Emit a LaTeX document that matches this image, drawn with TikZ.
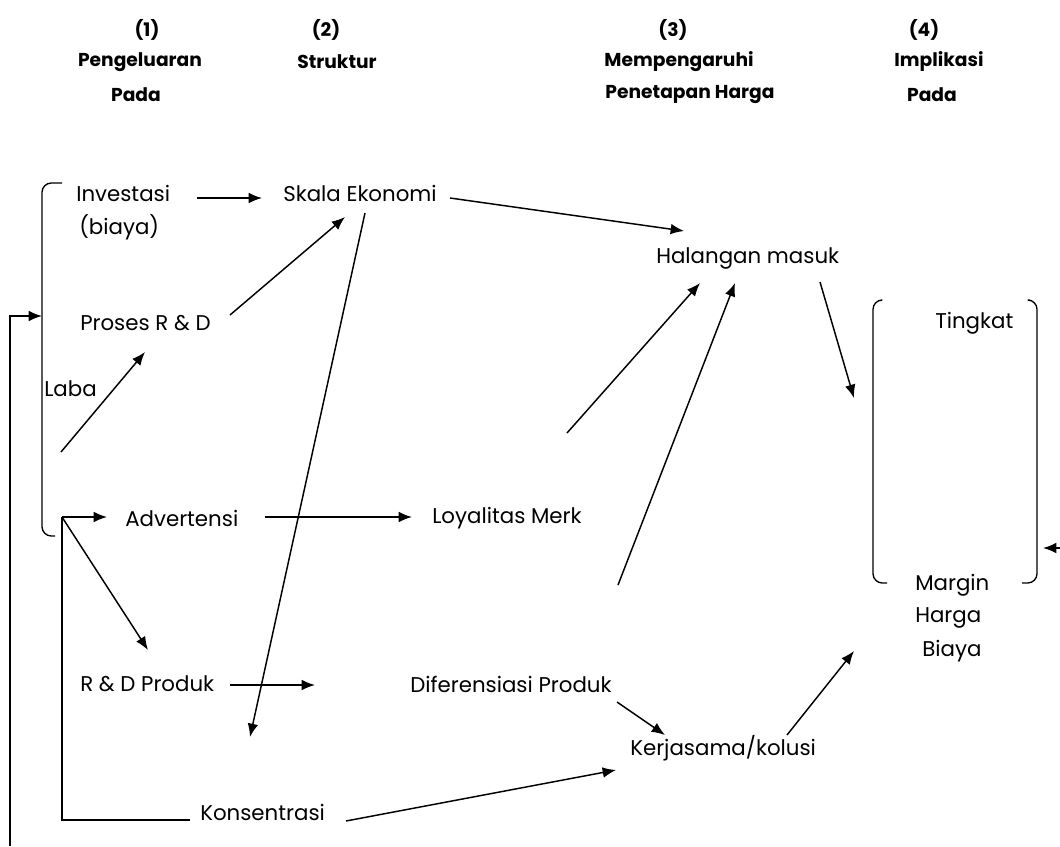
\documentclass[tikz,border=0pt]{standalone}
\usepackage{fontspec}
\setmainfont{Poppins}
\usetikzlibrary{arrows.meta}
\begin{document}
\begin{tikzpicture}[x=0.75pt,y=-0.75pt,
  lbl/.style={inner sep=0pt,anchor=west,font=\fontsize{16}{18}\selectfont},
  hd/.style={inner sep=0pt,anchor=center,font=\bfseries\fontsize{14}{16}\selectfont},
  arr/.style={line width=1.1pt,-{Latex[length=10pt,width=8pt]}},
  ln/.style={line width=1.1pt},
  brk/.style={line width=1pt,rounded corners=7pt}]
\useasboundingbox (0,0) rectangle (1060,846);

% column headings
\node[hd] (h1a) at (147,30) {(1)};
\node[hd] (h1b) at (140,62) {Pengeluaran};
\node[hd] (h1c) at (136,95) {Pada};
\node[hd] (h2a) at (326,30) {(2)};
\node[hd] (h2b) at (337,62) {Struktur};
\node[hd] (h3a) at (673,30) {(3)};
\node[hd] (h3b) at (679,62) {Mempengaruhi};
\node[hd] (h3c) at (690,95) {Penetapan Harga};
\node[hd] (h4a) at (924,30) {(4)};
\node[hd] (h4b) at (939,62) {Implikasi};
\node[hd] (h4c) at (932,95) {Pada};

% labels
\node[lbl] (inv) at (76,193) {Investasi};
\node[lbl] (biaya) at (79,227) {(biaya)};
\node[lbl] (skala) at (283,193) {Skala Ekonomi};
\node[lbl] (hal) at (656,258) {Halangan masuk};
\node[lbl] (pros) at (80,323) {Proses R \& D};
\node[lbl] (laba) at (44,389) {Laba};
\node[lbl] (ting) at (935,323) {Tingkat};
\node[lbl] (adv) at (125,518) {Advertensi};
\node[lbl] (loy) at (432,518) {Loyalitas Merk};
\node[lbl] (margin) at (915,585) {Margin};
\node[lbl] (harga) at (915,618) {Harga};
\node[lbl] (biayab) at (922,651) {Biaya};
\node[lbl] (rdp) at (80,684) {R \& D Produk};
\node[lbl] (dif) at (410,684) {Diferensiasi Produk};
\node[lbl] (ker) at (630,748) {Kerjasama/kolusi};
\node[lbl] (kon) at (200,812) {Konsentrasi};

% connector end points
\coordinate (invE) at (197,198);   \coordinate (skW) at (262,198);
\coordinate (skE) at (450,198);    \coordinate (halN) at (684,231);
\coordinate (prE) at (230,315);    \coordinate (skS1) at (345,217);
\coordinate (labaA) at (61,452);   \coordinate (prS) at (145,352);
\coordinate (skS2) at (365,213);   \coordinate (konN) at (250,737);
\coordinate (halE) at (820,282);   \coordinate (grpW) at (854,398);
\coordinate (loyN) at (567,433);   \coordinate (halS1) at (700,283);
\coordinate (difN) at (618,585);   \coordinate (halS2) at (735,283);
\coordinate (advE) at (265,517);   \coordinate (loyW) at (412,517);
\coordinate (fork) at (62,517);    \coordinate (advW) at (107,517);
\coordinate (rdpN) at (148,650);   \coordinate (konW) at (190,820);
\coordinate (rdpE) at (230,685);   \coordinate (rdpT) at (315,685);
\coordinate (difS) at (617,702);   \coordinate (kerN) at (665,735);
\coordinate (konE) at (346,821);   \coordinate (kerW) at (616,770);
\coordinate (kerE) at (787,735);   \coordinate (grpS) at (854,651);
\coordinate (fbB) at (10,846);     \coordinate (fbT) at (10,316);
\coordinate (brkL) at (42,316);
\coordinate (edgeR) at (1060,548); \coordinate (brkR) at (1043,548);

% brackets
\draw[brk] (62,183) -- (42,183) -- (42,536) -- (55,536);
\draw[brk] (881,300) -- (873,300) -- (873,583) -- (887,583);
\draw[brk] (1030,300) -- (1037,300) -- (1037,583) -- (1022,583);

% connectors
\draw[arr] (invE) -- (skW);
\draw[arr] (skE) -- (halN);
\draw[arr] (prE) -- (skS1);
\draw[arr] (labaA) -- (prS);
\draw[arr] (skS2) -- (konN);
\draw[arr] (halE) -- (grpW);
\draw[arr] (loyN) -- (halS1);
\draw[arr] (difN) -- (halS2);
\draw[arr] (advE) -- (loyW);
\draw[arr] (fork) -- (advW);
\draw[arr] (fork) -- (rdpN);
\draw[ln] (fork) -- (62,820) -- (konW);
\draw[arr] (rdpE) -- (rdpT);
\draw[arr] (difS) -- (kerN);
\draw[arr] (konE) -- (kerW);
\draw[arr] (kerE) -- (grpS);
\draw[arr] (fbB) -- (fbT) -- (brkL);
\draw[arr] (edgeR) -- (brkR);
\end{tikzpicture}
\end{document}
